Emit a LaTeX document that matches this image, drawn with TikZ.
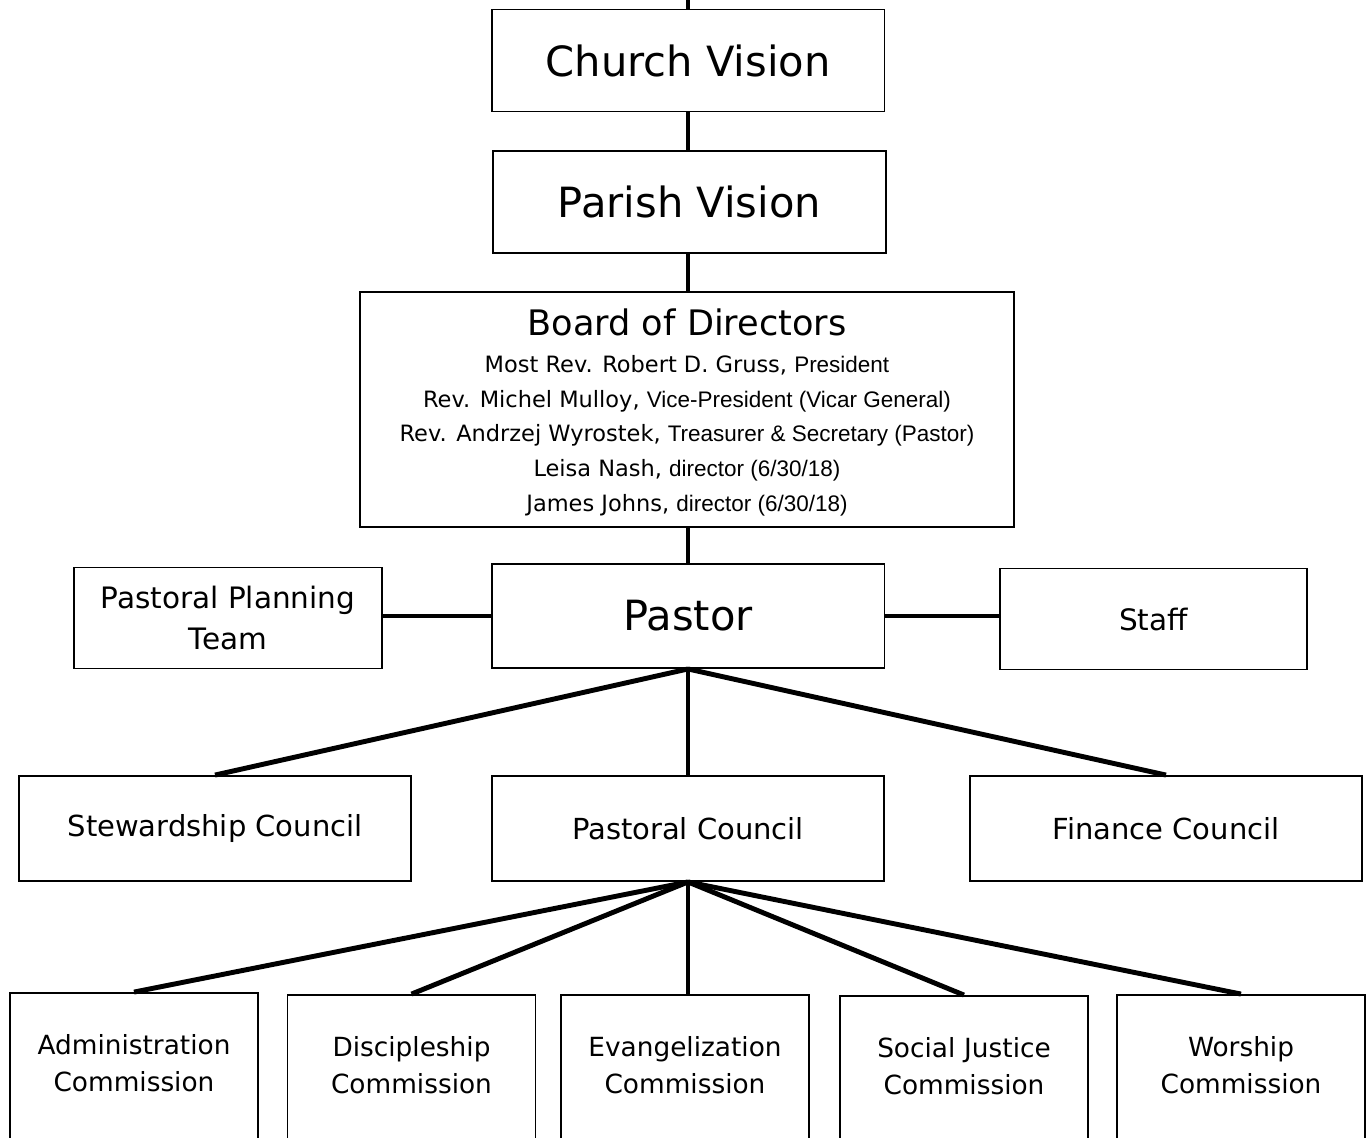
\documentclass[tikz,border=0pt]{standalone}
\usepackage{fontspec}
\setmainfont{DejaVu Sans}
\newfontfamily\titlefont{Liberation Sans}
\def\link{\draw[line width=2.8pt]}
\tikzset{
  box/.style={draw,line width=1.1pt,align=center,inner sep=0pt},
  bigbox/.style={box,minimum width=7.86cm,minimum height=2.04cm,font=\fontsize{23.7}{28}\selectfont},
  midbox/.style={box,minimum width=7.84cm,minimum height=2.1cm,font=\fontsize{16.5}{21}\selectfont},
  sidebox/.style={box,minimum width=6.15cm,minimum height=2.02cm,font=\fontsize{16.8}{23.8}\selectfont},
  combox/.style={box,anchor=base,text width=4.96cm,text height=1.22cm,text depth=3cm,font=\fontsize{15}{21.5}\selectfont}
}
\begin{document}
\begin{tikzpicture}[x=0.02cm,y=-0.02cm]
  \useasboundingbox (0,0) rectangle (1367,1137);
  \clip (0,0) rectangle (1367,1137);
  % vision and board
  \coordinate (top) at (688,0);
  \node[bigbox] (church) at (688,60.5) {Church Vision};
  \node[bigbox] (parish) at (689.5,202) {Parish Vision};
  \node[box,minimum width=13.08cm,minimum height=4.7cm,font=\fontsize{12.8}{19.8}\selectfont]
    (board) at (687,409.5) {{\fontsize{20}{24}\selectfont\rule{0pt}{18.6pt}Board of Directors}\\[1.2pt]
    Most Rev. Robert D. Gruss, {\titlefont President}\\
    Rev. Michel Mulloy, {\titlefont Vice-President (Vicar General)}\\
    Rev. Andrzej Wyrostek, {\titlefont Treasurer \& Secretary (Pastor)}\\
    Leisa Nash, {\titlefont director (6/30/18)}\\
    James Johns, {\titlefont director (6/30/18)}};
  % pastor row
  \node[bigbox,minimum height=2.08cm] (pastor) at (688,616) {Pastor};
  \node[sidebox] (planning) at (228,618) {Pastoral Planning\\Team};
  \node[sidebox] (staff) at (1153.5,619) {Staff};
  % councils
  \node[midbox] (steward) at (215,828.5) {Stewardship Council};
  \node[midbox] (pcouncil) at (688,828.5) {Pastoral Council};
  \node[midbox] (finance) at (1166,828.5) {Finance Council};
  % commissions
  \node[combox] (admin) at (134,1054) {Administration\\Commission};
  \node[combox] (disc) at (411.5,1056) {Discipleship\\Commission};
  \node[combox] (evang) at (685,1056) {Evangelization\\Commission};
  \node[combox] (social) at (964,1057) {Social Justice\\Commission};
  \node[combox] (worship) at (1241,1056) {Worship\\Commission};
  % connectors
  \link (top) -- (church.north);
  \link (church.south) -- (church.south |- parish.north);
  \link (parish.south -| church.south) -- (board.north -| church.south);
  \link (board.south -| pastor.north) -- (pastor.north);
  \link (pastor.west) -- (pastor.west -| planning.east);
  \link (pastor.east) -- (pastor.east -| staff.west);
  \link (pastor.south) -- (steward.north);
  \link (pastor.south) -- (pcouncil.north);
  \link (pastor.south) -- (finance.north);
  \foreach \c in {admin,disc,worship,social}
    \link (pcouncil.south) -- (\c.north);
  \link (pcouncil.south) -- (pcouncil.south |- evang.north);
\end{tikzpicture}
\end{document}
